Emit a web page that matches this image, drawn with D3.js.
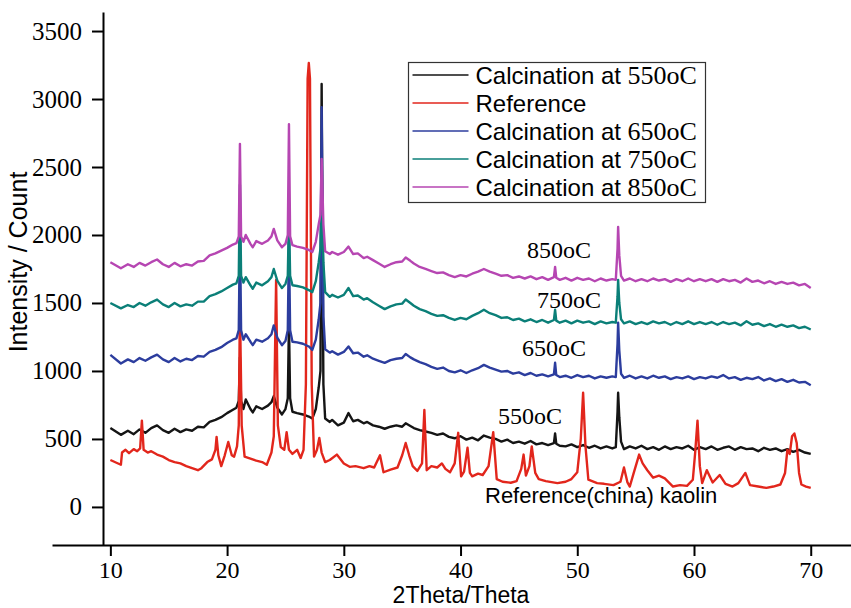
<!DOCTYPE html>
<html>
<head>
<meta charset="utf-8">
<script src="https://cdn.jsdelivr.net/npm/d3@7/dist/d3.min.js"></script>
<style>
body { margin: 0; background: #fff; }
svg { display: block; }
</style>
</head>
<body>
<svg width="851" height="608"></svg>
<script>
// XRD patterns: [2theta, intensity]
var cal550 = [[10,580],[10.9,530],[11.5,560],[12,535],[12.5,570],[13,545],[13.5,580],[14,600],[14.5,565],[15,545],[15.5,575],[16,550],[16.5,570],[17,560],[17.5,590],[18,585],[18.5,625],[19,640],[19.5,660],[20,690],[20.5,715],[20.8,730],[21,780],[21.1,1100],[21.2,780],[21.4,720],[21.6,790],[22,720],[22.2,695],[22.5,740],[23,720],[23.5,745],[23.8,770],[24,815],[24.3,730],[24.7,680],[25,720],[25.2,800],[25.3,1350],[25.4,800],[25.6,700],[26,690],[26.5,680],[27,665],[27.3,650],[27.6,720],[27.85,880],[28,1000],[28.1,3110],[28.25,900],[28.4,650],[28.8,625],[29,640],[29.5,600],[30,620],[30.4,690],[30.8,630],[31.2,640],[31.7,615],[32,625],[32.5,600],[33,590],[33.5,575],[34,590],[34.5,600],[35,590],[35.3,615],[35.7,595],[36,580],[36.5,565],[37,555],[37.5,545],[38,530],[38.5,540],[39,515],[39.5,505],[40,520],[40.5,495],[41,510],[41.5,490],[42,525],[42.5,510],[43,500],[43.5,480],[44,495],[44.5,470],[45,480],[45.5,465],[46,485],[46.5,460],[47,470],[47.5,455],[48,470],[48.1,540],[48.2,465],[48.5,450],[49,445],[49.5,460],[50,440],[50.5,455],[51,435],[51.5,450],[52,430],[52.5,445],[53,430],[53.3,440],[53.45,700],[53.5,840],[53.6,660],[53.75,480],[54,425],[54.5,445],[55,430],[55.5,450],[56,425],[56.5,440],[57,420],[57.5,445],[58,425],[58.5,440],[59,430],[59.5,450],[60,420],[60.5,440],[61,425],[61.5,445],[62,420],[62.5,435],[63,445],[63.5,420],[64,440],[64.5,425],[65,430],[65.5,410],[66,435],[66.5,420],[67,430],[67.5,410],[68,425],[68.5,405],[69,420],[69.5,400],[70,390]];

var reference = [[10,345],[10.9,310],[11,400],[11.3,420],[11.6,395],[12,425],[12.3,410],[12.55,430],[12.7,635],[12.85,420],[13.2,400],[13.5,410],[14,385],[14.5,370],[15,345],[15.5,330],[16,320],[16.5,300],[17,285],[17.5,270],[17.8,285],[18.3,330],[18.7,350],[19,420],[19.1,515],[19.25,380],[19.5,300],[19.8,380],[20.1,478],[20.4,380],[20.6,370],[20.85,445],[21,600],[21.1,1470],[21.25,600],[21.5,370],[22,355],[22.5,340],[23,330],[23.4,310],[23.8,400],[24,520],[24.2,1670],[24.35,600],[24.6,440],[24.9,420],[25.1,550],[25.3,420],[25.6,390],[26,420],[26.3,360],[26.55,420],[26.75,900],[26.9,3150],[27,3265],[27.1,3150],[27.25,900],[27.45,370],[27.7,420],[27.9,507],[28.1,400],[28.4,330],[28.8,345],[29.4,385],[30,320],[30.5,295],[31,300],[31.7,285],[32.2,300],[32.6,290],[33.1,380],[33.4,255],[34,275],[34.6,290],[35,380],[35.3,470],[35.6,380],[35.9,300],[36.3,265],[36.7,320],[36.9,713],[37.1,270],[37.5,300],[38,290],[38.4,320],[38.7,280],[39.1,255],[39.5,320],[39.8,545],[40.05,225],[40.3,260],[40.6,435],[40.8,250],[41,225],[41.5,245],[41.9,235],[42.4,300],[42.8,550],[43.1,205],[43.6,185],[44.3,178],[44.8,190],[45.2,280],[45.4,385],[45.6,230],[45.9,300],[46.1,445],[46.4,250],[46.7,205],[47.3,190],[48.3,175],[49,185],[49.5,205],[50,255],[50.3,500],[50.5,840],[50.7,450],[50.95,200],[51.7,175],[52.3,170],[53.1,160],[53.7,185],[54,290],[54.3,180],[54.5,150],[54.8,240],[55.3,385],[55.6,320],[56,270],[56.5,215],[57,230],[57.5,210],[58.2,150],[58.8,160],[59.4,155],[59.9,200],[60.1,400],[60.3,635],[60.5,300],[60.7,175],[61.1,270],[61.6,180],[62.2,235],[62.7,170],[63.3,150],[63.8,175],[64.4,250],[64.8,160],[65.5,150],[66.2,140],[66.8,150],[67.4,165],[67.8,250],[68,420],[68.2,390],[68.4,520],[68.6,540],[68.8,470],[69,250],[69.2,165],[69.6,150],[70,140]];

var cal650 = [[10,1118],[10.9,1055],[11.5,1085],[12,1065],[12.5,1095],[13,1075],[13.5,1100],[14,1120],[14.5,1085],[15,1065],[15.5,1095],[16,1070],[16.5,1090],[17,1080],[17.5,1110],[18,1105],[18.5,1140],[19,1155],[19.5,1175],[20,1205],[20.5,1230],[20.8,1240],[21,1300],[21.1,2050],[21.2,1300],[21.4,1230],[21.6,1270],[22,1215],[22.2,1190],[22.5,1230],[23,1215],[23.5,1240],[23.8,1270],[24,1335],[24.3,1245],[24.7,1190],[25,1220],[25.2,1300],[25.3,1950],[25.4,1300],[25.6,1215],[26,1210],[26.5,1200],[27,1180],[27.3,1155],[27.6,1230],[27.85,1380],[28,1500],[28.1,2940],[28.25,1400],[28.4,1160],[28.8,1135],[29,1145],[29.5,1120],[30,1140],[30.4,1180],[30.8,1130],[31.2,1135],[31.7,1105],[32,1115],[32.5,1090],[33,1075],[33.5,1060],[34,1080],[34.5,1090],[35,1095],[35.3,1125],[35.7,1100],[36,1085],[36.5,1065],[37,1050],[37.5,1030],[38,1015],[38.5,1025],[39,1000],[39.5,990],[40,1005],[40.5,985],[41,1005],[41.5,1020],[42,1045],[42.5,1025],[43,1010],[43.5,995],[44,1000],[44.5,980],[45,990],[45.5,970],[46,985],[46.5,965],[47,975],[47.5,960],[48,975],[48.1,1060],[48.2,970],[48.5,955],[49,965],[49.5,950],[50,970],[50.5,955],[51,965],[51.5,945],[52,960],[52.5,950],[53,960],[53.3,955],[53.45,1200],[53.5,1355],[53.6,1150],[53.75,980],[54,950],[54.5,965],[55,945],[55.5,960],[56,945],[56.5,965],[57,950],[57.5,960],[58,940],[58.5,955],[59,945],[59.5,960],[60,940],[60.5,955],[61,945],[61.5,960],[62,950],[62.5,970],[63,945],[63.5,955],[64,935],[64.5,950],[65,940],[65.5,955],[66,930],[66.5,945],[67,925],[67.5,940],[68,920],[68.5,935],[69,915],[69.5,920],[70,895]];

var cal750 = [[10,1500],[10.9,1460],[11.5,1485],[12,1470],[12.5,1500],[13,1480],[13.5,1505],[14,1525],[14.5,1490],[15,1470],[15.5,1500],[16,1475],[16.5,1490],[17,1480],[17.5,1510],[18,1510],[18.5,1550],[19,1565],[19.5,1585],[20,1610],[20.5,1635],[20.8,1645],[21,1700],[21.1,2370],[21.2,1700],[21.4,1650],[21.6,1690],[22,1630],[22.2,1605],[22.5,1650],[23,1630],[23.5,1660],[23.8,1690],[24,1750],[24.3,1665],[24.7,1610],[25,1640],[25.2,1700],[25.3,2150],[25.4,1700],[25.6,1630],[26,1625],[26.5,1615],[27,1595],[27.3,1580],[27.6,1660],[27.85,1800],[28,1900],[28.1,2270],[28.25,1800],[28.4,1580],[28.8,1545],[29,1560],[29.5,1540],[30,1560],[30.4,1610],[30.8,1550],[31.2,1555],[31.7,1525],[32,1535],[32.5,1505],[33,1480],[33.5,1455],[34,1475],[34.5,1490],[35,1495],[35.3,1525],[35.7,1500],[36,1480],[36.5,1455],[37,1440],[37.5,1420],[38,1405],[38.5,1410],[39,1390],[39.5,1375],[40,1390],[40.5,1380],[41,1405],[41.5,1425],[42,1450],[42.5,1425],[43,1410],[43.5,1390],[44,1395],[44.5,1375],[45,1385],[45.5,1365],[46,1380],[46.5,1360],[47,1375],[47.5,1355],[48,1375],[48.1,1450],[48.2,1370],[48.5,1355],[49,1370],[49.5,1350],[50,1370],[50.5,1355],[51,1365],[51.5,1345],[52,1365],[52.5,1350],[53,1360],[53.3,1355],[53.45,1550],[53.5,1670],[53.6,1500],[53.75,1380],[54,1350],[54.5,1365],[55,1345],[55.5,1360],[56,1345],[56.5,1365],[57,1350],[57.5,1360],[58,1340],[58.5,1360],[59,1345],[59.5,1365],[60,1345],[60.5,1360],[61,1345],[61.5,1360],[62,1340],[62.5,1360],[63,1345],[63.5,1355],[64,1335],[64.5,1365],[65,1340],[65.5,1350],[66,1330],[66.5,1345],[67,1325],[67.5,1340],[68,1325],[68.5,1335],[69,1315],[69.5,1325],[70,1305]];

var cal850 = [[10,1800],[10.9,1755],[11.5,1785],[12,1765],[12.5,1795],[13,1775],[13.5,1800],[14,1820],[14.5,1785],[15,1765],[15.5,1795],[16,1770],[16.5,1785],[17,1775],[17.5,1805],[18,1810],[18.5,1850],[19,1865],[19.5,1885],[20,1905],[20.5,1930],[20.8,1940],[21,1990],[21.1,2670],[21.2,1990],[21.4,1950],[21.6,2000],[22,1935],[22.2,1910],[22.5,1955],[23,1935],[23.5,1960],[23.8,1990],[24,2045],[24.3,1960],[24.7,1910],[25,1935],[25.2,2000],[25.3,2815],[25.4,1990],[25.6,1925],[26,1915],[26.5,1905],[27,1890],[27.3,1875],[27.6,1950],[27.85,2080],[28,2150],[28.1,2560],[28.25,2080],[28.4,1880],[28.8,1860],[29,1875],[29.5,1855],[30,1875],[30.4,1915],[30.8,1860],[31.2,1865],[31.7,1830],[32,1840],[32.5,1815],[33,1790],[33.5,1765],[34,1785],[34.5,1800],[35,1805],[35.3,1835],[35.7,1810],[36,1790],[36.5,1765],[37,1750],[37.5,1735],[38,1720],[38.5,1725],[39,1705],[39.5,1690],[40,1705],[40.5,1695],[41,1715],[41.5,1730],[42,1750],[42.5,1730],[43,1715],[43.5,1700],[44,1705],[44.5,1685],[45,1695],[45.5,1680],[46,1695],[46.5,1675],[47,1690],[47.5,1670],[48,1690],[48.1,1765],[48.2,1685],[48.5,1670],[49,1685],[49.5,1665],[50,1685],[50.5,1670],[51,1680],[51.5,1660],[52,1680],[52.5,1665],[53,1675],[53.3,1670],[53.45,1900],[53.5,2060],[53.6,1850],[53.75,1700],[54,1665],[54.5,1680],[55,1660],[55.5,1675],[56,1660],[56.5,1680],[57,1665],[57.5,1675],[58,1655],[58.5,1675],[59,1660],[59.5,1680],[60,1660],[60.5,1675],[61,1660],[61.5,1675],[62,1655],[62.5,1675],[63,1660],[63.5,1670],[64,1650],[64.5,1680],[65,1655],[65.5,1665],[66,1645],[66.5,1660],[67,1640],[67.5,1655],[68,1640],[68.5,1650],[69,1630],[69.5,1640],[70,1610]];

// ticks and labels
var xMajor = [10, 20, 30, 40, 50, 60, 70];
var xMinor = [5, 15, 25, 35, 45, 55, 65];
var yMajor = [0, 500, 1000, 1500, 2000, 2500, 3000, 3500];
var yMinor = [-250, 250, 750, 1250, 1750, 2250, 2750, 3250];
var legendText = ["Calcination at ", "Reference", "Calcination at ", "Calcination at ", "Calcination at "];
var legendTemp = ["550oC", "", "650oC", "750oC", "850oC"];
var tagText = ["850oC", "750oC", "650oC", "550oC"];

var SERIF = "'Liberation Serif', serif";
var SANS = "'Liberation Sans', Arial, sans-serif";

var svg = d3.select("svg"),
    width = +svg.attr("width"),
    height = +svg.attr("height");

var x = d3.scaleLinear().domain([5, 73.45]).range([52, 851]);
var y = d3.scaleLinear().domain([-280, 3640]).range([545, 12]);

var series = [
  { data: cal550, color: "#151515" },
  { data: reference, color: "#e2261c" },
  { data: cal650, color: "#2c3d9e" },
  { data: cal750, color: "#0b7f78" },
  { data: cal850, color: "#b646b2" }
];

var line = d3.line()
  .x(function (d) { return x(d[0]); })
  .y(function (d) { return y(d[1]); });

svg.append("g")
  .attr("class", "patterns")
  .selectAll("path")
  .data(series)
  .enter().append("path")
  .attr("fill", "none")
  .attr("stroke", function (d) { return d.color; })
  .attr("stroke-width", 2.4)
  .attr("stroke-linejoin", "round")
  .attr("d", function (d) { return line(d.data); });

// X axis
var xAxisG = svg.append("g")
  .attr("transform", "translate(0,545)");
xAxisG.call(d3.axisBottom(x).tickValues(xMinor).tickSize(6).tickSizeOuter(0).tickFormat(""));
xAxisG.call(d3.axisBottom(x).tickValues(xMajor).tickSize(11).tickSizeOuter(0).tickPadding(5).tickFormat(d3.format("d")));
xAxisG.attr("font-family", null).attr("font-size", null);
xAxisG.selectAll("text").attr("fill", "#000")
  .style("font-family", SERIF).style("font-size", "24px");

// Y axis
var yAxisG = svg.append("g")
  .attr("transform", "translate(103,0)");
yAxisG.call(d3.axisLeft(y).tickValues(yMinor).tickSize(6).tickSizeOuter(0).tickFormat(""));
yAxisG.call(d3.axisLeft(y).tickValues(yMajor).tickSize(11).tickSizeOuter(0).tickPadding(10).tickFormat(d3.format("d")));
yAxisG.attr("font-family", null).attr("font-size", null);
yAxisG.selectAll("text").attr("fill", "#000")
  .style("font-family", SERIF).style("font-size", "25px");

svg.selectAll(".domain, .tick line")
  .attr("stroke", "#000")
  .attr("stroke-width", 2);

// Axis titles
svg.append("text")
  .style("font-family", SANS)
  .style("font-size", "25px")
  .attr("transform", "translate(27,262) rotate(-90)")
  .attr("text-anchor", "middle")
  .text("Intensity / Count");

svg.append("text")
  .style("font-family", SANS)
  .style("font-size", "23px")
  .attr("x", 461)
  .attr("y", 603)
  .attr("text-anchor", "middle")
  .text("2Theta/Theta");

// Curve tags
var tagX = [527, 537, 522, 498];
var tagY = [258, 308, 356, 424];
svg.append("g")
  .selectAll("text")
  .data(tagText)
  .enter().append("text")
  .style("font-family", SERIF)
  .style("font-size", "24px")
  .attr("x", function (d, i) { return tagX[i]; })
  .attr("y", function (d, i) { return tagY[i]; })
  .text(function (d) { return d; });

svg.append("text")
  .style("font-family", SANS)
  .style("font-size", "22px")
  .attr("x", 485)
  .attr("y", 503)
  .text("Reference(china) kaolin");

// Legend
var legend = svg.append("g")
  .attr("transform", "translate(408.5,62.5)");
legend.append("rect")
  .attr("width", 297)
  .attr("height", 140)
  .attr("fill", "#fff")
  .attr("stroke", "#333")
  .attr("stroke-width", 1.2);

var rows = legend.selectAll("g.row")
  .data(series)
  .enter().append("g")
  .attr("class", "row")
  .attr("transform", function (d, i) { return "translate(0," + (12.5 + i * 28) + ")"; });
rows.append("line")
  .attr("x1", 4).attr("x2", 60)
  .attr("stroke", function (d) { return d.color; })
  .attr("stroke-width", 1.3);
var rowText = rows.append("text")
  .attr("x", 67)
  .attr("y", 8.5);
rowText.append("tspan")
  .style("font-family", SANS)
  .style("font-size", "24px")
  .text(function (d, i) { return legendText[i]; });
rowText.append("tspan")
  .style("font-family", SERIF)
  .style("font-size", "26px")
  .text(function (d, i) { return legendTemp[i]; });
</script>
</body>
</html>
